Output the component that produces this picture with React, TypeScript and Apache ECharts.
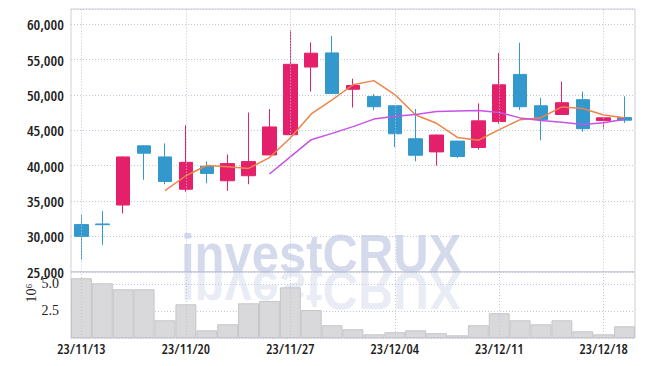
import React, { useEffect, useRef } from "react";
import * as echarts from "echarts";

const dates = [
  "23/11/13", "23/11/14", "23/11/15", "23/11/16", "23/11/17",
  "23/11/20", "23/11/21", "23/11/22", "23/11/23", "23/11/24",
  "23/11/27", "23/11/28", "23/11/29", "23/11/30", "23/12/01",
  "23/12/04", "23/12/05", "23/12/06", "23/12/07", "23/12/08",
  "23/12/11", "23/12/12", "23/12/13", "23/12/14", "23/12/15",
  "23/12/18", "23/12/19",
];

const opens = [31660, 31750, 34430, 42800, 41230, 36660, 39900, 37860, 38570, 41510, 44370, 53940, 55940, 50800, 49760, 48470, 43800, 41940, 43470, 42570, 46230, 52900, 48470, 47230, 49330, 46370, 46800];
const closes = [30000, 31650, 41230, 41760, 37760, 40470, 38900, 40290, 40570, 45470, 54330, 55900, 50190, 51330, 48330, 44510, 41470, 44330, 41290, 46330, 51430, 48330, 46510, 48900, 45230, 46760, 46430];
const lows = [26660, 28800, 33230, 38000, 37370, 36300, 37510, 36430, 37370, 41510, 44370, 50470, 50190, 48230, 47860, 42610, 40610, 40000, 41090, 42290, 45940, 47860, 43570, 47230, 44800, 45230, 46040];
const highs = [33000, 33570, 41300, 42900, 43140, 45710, 40610, 41570, 47510, 48000, 59140, 57430, 58330, 52290, 50140, 48470, 48000, 44400, 43500, 48800, 55940, 57370, 49570, 51900, 50470, 46800, 49800];

const ma5 = [null, null, null, null, 36480, 38570, 40020, 39840, 39600, 41140, 43910, 47310, 49290, 51440, 52020, 50050, 47170, 45990, 43990, 43590, 45100, 46500, 46780, 48300, 48080, 47150, 46770];
const ma10 = [null, null, null, null, null, null, null, null, null, 38810, 41240, 43670, 44560, 45520, 46580, 46980, 47240, 47640, 47720, 47800, 47510, 46750, 46390, 46140, 45830, 46060, 46550];

const volumes = [5530000, 5060000, 4510000, 4510000, 1640000, 3120000, 710000, 1270000, 3210000, 3430000, 4690000, 2590000, 1180000, 810000, 340000, 530000, 710000, 440000, 250000, 1180000, 2290000, 1640000, 1270000, 1640000, 620000, 340000, 1080000];

const weekTicks = ["23/11/13", "23/11/20", "23/11/27", "23/12/04", "23/12/11", "23/12/18"];

const RED = "#e5206b";
const BLUE = "#3399cc";
const GRID_COLOR = "#bfc6df";
// font-stretch appended after the family (zrender writes font-family raw into the style attribute)
const NARROW = '"Open Sans", sans-serif;font-stretch:condensed';
const SERIF = '"Liberation Serif", "DejaVu Serif", serif';

export default function App() {
  const ref = useRef<HTMLDivElement>(null);

  useEffect(() => {
    if (!ref.current) return;
    const chart = echarts.init(ref.current, undefined, { renderer: "svg" });

    const candleData = dates.map((_, i) => [opens[i], closes[i], lows[i], highs[i]]);
    const vLineStyle = { type: [1, 2] as any, color: GRID_COLOR, width: 1 };
    const markLineDef = {
      silent: true,
      symbol: "none",
      label: { show: false },
      lineStyle: vLineStyle,
      animation: false,
      data: weekTicks.map((d) => ({ xAxis: d })),
    };

    const wmFont = 'bold 49px "Liberation Sans", Arial, sans-serif';

    chart.setOption({
      animation: false,
      backgroundColor: "#ffffff",
      grid: [
        { left: 71, top: 9, width: 564, height: 262.7, show: true, borderColor: "#cfcfd4", borderWidth: 1, backgroundColor: "transparent" },
        { left: 71, top: 272, width: 564, height: 66, show: true, borderColor: "#cfcfd4", borderWidth: 1, backgroundColor: "transparent" },
      ],
      xAxis: [
        {
          type: "category",
          gridIndex: 0,
          data: dates,
          boundaryGap: true,
          axisLine: { show: false },
          axisTick: { show: false },
          axisLabel: { show: false },
          splitLine: { show: false },
        },
        {
          type: "category",
          gridIndex: 1,
          data: dates,
          boundaryGap: true,
          axisLine: { show: false },
          axisTick: { show: false },
          axisLabel: {
            interval: 4,
            fontFamily: NARROW,
            fontWeight: 600,
            fontSize: 14,
            lineHeight: 14,
            color: "#1e1e1e",
            margin: 3,
          },
          splitLine: { show: false },
        },
      ],
      yAxis: [
        {
          type: "value",
          gridIndex: 0,
          min: 25000,
          max: 62150,
          interval: 5000,
          axisLine: { show: false },
          axisTick: { show: false },
          axisLabel: {
            fontFamily: NARROW,
            fontWeight: 600,
            fontSize: 15,
            lineHeight: 11,
            color: "#1e1e1e",
            margin: 7,
            formatter: (v: number) => (v % 5000 === 0 ? v.toLocaleString("en-US") : ""),
          },
          splitLine: {
            show: true,
            lineStyle: { type: [1, 2], color: GRID_COLOR, width: 1 },
          },
        },
        {
          type: "value",
          gridIndex: 1,
          min: 0,
          max: 6110000,
          interval: 2500000,
          axisLine: { show: false },
          axisTick: { show: false },
          axisLabel: {
            fontFamily: SERIF,
            fontSize: 14,
            lineHeight: 10,
            padding: [4, 0, 0, 0],
            color: "#1e1e1e",
            margin: 12,
            formatter: (v: number) => (v > 0 && v % 2500000 === 0 ? (v / 1e6).toFixed(1) : ""),
          },
          splitLine: {
            show: true,
            lineStyle: { type: [1, 2], color: GRID_COLOR, width: 1 },
          },
        },
      ],
      series: [
        {
          type: "candlestick",
          xAxisIndex: 0,
          yAxisIndex: 0,
          data: candleData,
          barWidth: 14,
          itemStyle: {
            color: RED,
            color0: BLUE,
            borderColor: RED,
            borderColor0: BLUE,
            borderWidth: 1,
          },
          markLine: markLineDef,
          z: 3,
        },
        {
          type: "line",
          xAxisIndex: 0,
          yAxisIndex: 0,
          data: ma5.map((v) => (v == null ? "-" : v)),
          showSymbol: false,
          symbol: "none",
          lineStyle: { color: "#ee8548", width: 1.5 },
          z: 4,
        },
        {
          type: "line",
          xAxisIndex: 0,
          yAxisIndex: 0,
          data: ma10.map((v) => (v == null ? "-" : v)),
          showSymbol: false,
          symbol: "none",
          lineStyle: { color: "#c852e6", width: 1.5 },
          z: 4,
        },
        {
          type: "bar",
          xAxisIndex: 1,
          yAxisIndex: 1,
          data: volumes,
          barWidth: "100%",
          barCategoryGap: "0%",
          itemStyle: { color: "#d9d9db", borderColor: "#c5c5ca", borderWidth: 1 },
          markLine: markLineDef,
        },
      ],
      graphic: [
        {
          type: "group",
          x: 181,
          y: 272,
          scaleY: 1.11,
          z: 100,
          silent: true,
          children: [
            {
              type: "text",
              x: 0,
              y: -17,
              style: { text: "investCRUX", font: wmFont, fill: "rgba(170,182,215,0.5)", verticalAlign: "middle", align: "left" },
            },
          ],
        },
        {
          type: "group",
          x: 181,
          y: 272,
          scaleY: -1.11,
          z: 100,
          silent: true,
          children: [
            {
              type: "text",
              x: 0,
              y: -17,
              style: { text: "investCRUX", font: wmFont, fill: "rgba(170,182,215,0.25)", verticalAlign: "middle", align: "left" },
            },
          ],
        },
        {
          type: "text",
          x: 31,
          y: 293,
          rotation: Math.PI / 2,
          z: 100,
          style: {
            text: "10⁶",
            font: '14px "Liberation Serif", "DejaVu Serif", serif',
            fill: "#1e1e1e",
            align: "center",
            verticalAlign: "middle",
          },
        },
      ],
    });

    return () => chart.dispose();
  }, []);

  return <div ref={ref} style={{ position: "fixed", left: 0, top: 0, width: 645, height: 366 }} />;
}
